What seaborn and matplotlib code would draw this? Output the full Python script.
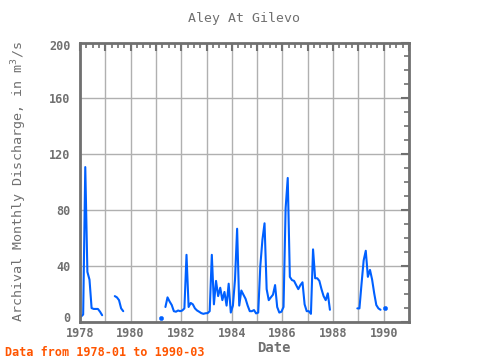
import numpy as np
import pandas as pd
import matplotlib
matplotlib.use("Agg")
import matplotlib.pyplot as plt
import matplotlib.transforms as mtransforms
from matplotlib.ticker import MultipleLocator, FuncFormatter
import seaborn as sns

nan = np.nan

# monthly discharge, m3/s (first month 1978-01)
q1978 = [3.5, 5, 110.7, 35.6, 30, 9.6, 9, 9, 9, 7, 4.5, nan]
q1979 = [nan, nan, nan, nan, 18.2, 17.3, 15.3, 9.4, 7.4, nan, nan, nan]
q1980 = [nan] * 12
q1981 = [nan, nan, 2.7, nan, 10.4, 17.3, 14.3, 11.8, 7.4, 7.0, 7.9, 7.4]
q1982 = [7.9, 9.4, 47.8, 10.4, 13.3, 12.3, 9.4, 7.9, 7.0, 6.0, 5.5, 5.9]
q1983 = [6.0, 7.4, 47.8, 12.3, 29.1, 18.2, 24.2, 15.3, 21.2, 11.4, 27.1, 6.4]
q1984 = [11.4, 30.1, 66.5, 11.4, 22.2, 19.2, 16.3, 11.4, 7.4, 7.4, 8.2, 5.8]
q1985 = [6.4, 39.9, 58.6, 70.4, 23.2, 15.3, 17.3, 19.2, 26.1, 10.4, 6.4, 7.0]
q1986 = [10.4, 81.2, 102.9, 32, 29.7, 29.1, 26.1, 23.2, 26.1, 28.1, 12.3, 7.4]
q1987 = [7.4, 5.5, 51.7, 31.0, 31.0, 29.1, 23.2, 18.2, 15.3, 20.2, 8.4, nan]
q1988 = [nan] * 11 + [9.4]
q1989 = [9.4, 27.1, 43.8, 50.7, 32.0, 37.0, 30.1, 20.2, 11.8, 9.4, 8.4, nan]
q1990 = [9.4, nan, nan]

values = (q1978 + q1979 + q1980 + q1981 + q1982 + q1983 + q1984
          + q1985 + q1986 + q1987 + q1988 + q1989 + q1990)

df = pd.DataFrame({"q": values})
df["t"] = 1978 + (np.arange(len(df)) + 0.5) / 12
# split into runs between gaps
df["seg"] = df["q"].isna().cumsum()
df = df.dropna()
counts = df["seg"].map(df["seg"].value_counts())
lines = df[counts > 1]
dots = df[counts == 1]

grey = "#707070"
blue = "#0060ff"

sns.set_theme(style="white")
plt.rcParams["font.family"] = ["DejaVu Sans Mono", "DejaVu Sans"]

fig = plt.figure(figsize=(4.8, 3.6), dpi=100)
ax = fig.add_axes([80 / 480, 1 - 321.5 / 360, 329 / 480, 279 / 360])

sns.lineplot(data=lines, x="t", y="q", units="seg", estimator=None,
             color=blue, lw=1.5, ax=ax, legend=False)
sns.scatterplot(data=dots, x="t", y="q", color=blue, s=10,
                edgecolor=blue, ax=ax, legend=False)

ax.set_xlim(1978, 1991)
ax.set_ylim(0, 200)
ax.xaxis.set_major_locator(MultipleLocator(1))
ax.xaxis.set_minor_locator(MultipleLocator(0.25))
ax.yaxis.set_major_locator(MultipleLocator(40))
ax.yaxis.set_minor_locator(MultipleLocator(10))
ax.xaxis.set_major_formatter(
    FuncFormatter(lambda v, _: f"{int(round(v))}" if round(v) % 2 == 0 else ""))

ax.grid(which="major", color="#b0b0b0", lw=1)
ax.set_axisbelow(True)
for s in ax.spines.values():
    s.set_color(grey)
    s.set_linewidth(2)
ax.tick_params(which="both", direction="in", top=True, right=True, color=grey,
               labelcolor=grey, labelsize=8.5)
ax.tick_params(which="major", length=6, width=1.5)
ax.tick_params(which="minor", length=3.5, width=1.2)
ax.tick_params(axis="y", which="major", pad=7)
ax.tick_params(axis="x", which="major", pad=4)

# end labels on the y axis sit a little inside the frame
fig.canvas.draw()
for lab in ax.get_yticklabels():
    txt = lab.get_text()
    dy = {"0": 5, "200": -3}.get(txt, 0)
    if dy:
        shift = mtransforms.ScaledTranslation(0, dy / 100, fig.dpi_scale_trans)
        lab.set_transform(lab.get_transform() + shift)
for lab in ax.get_xticklabels() + ax.get_yticklabels():
    lab.set_fontweight("bold")

ax.set_title("Aley At Gilevo", color=grey, fontsize=9.5, pad=15)
ax.set_xlabel("")
ax.set_ylabel("Archival Monthly Discharge, in m$^3$/s", color=grey,
              fontsize=9.6, labelpad=14)
fig.text(274 / 480, 1 - 348 / 360, "Date", color=grey, fontsize=10,
         fontweight="bold", ha="center", va="center")
fig.text(5 / 480, 1 - 352 / 360, "Data from 1978-01 to 1990-03", color="#ff5500",
         fontsize=8.5, fontweight="bold", ha="left", va="center")

fig.savefig("out.png", dpi=100, facecolor="white")
